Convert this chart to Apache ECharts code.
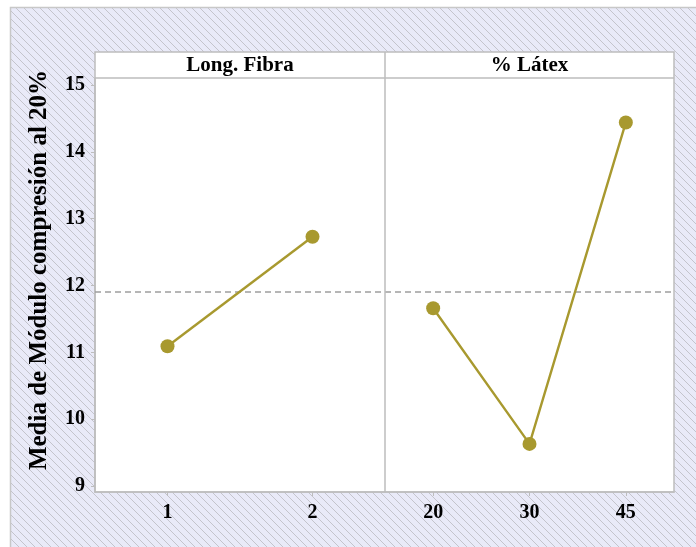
<!DOCTYPE html>
<html>
<head>
<meta charset="utf-8">
<script src="https://cdn.jsdelivr.net/npm/echarts@6/dist/echarts.min.js"></script>
<style>
  html, body { margin: 0; padding: 0; background: #ffffff; }
  #chart { width: 696px; height: 547px; }
</style>
</head>
<body>
<div id="chart"></div>
<script>
// Main effects for "Media de Módulo compresión al 20%"
const fibraLevels = ['1', '2'];
const fibraMeans = [11.09, 12.73];
const latexLevels = ['20', '30', '45'];
const latexMeans = [11.66, 9.63, 14.44];
const grandMean = 11.91;
const yTicks = [9, 10, 11, 12, 13, 14, 15];
const panelTitles = ['Long. Fibra', '% Látex'];
const yTitle = 'Media de Módulo compresión al 20%';

const FONT = '"Liberation Serif", "Times New Roman", serif';
const LINE = '#A8992F';
const FRAME = '#BDBDBD';

// diagonal hatch tile for the page background
function hatchTile() {
  const s = 8;
  const c = document.createElement('canvas');
  c.width = s; c.height = s;
  const g = c.getContext('2d');
  g.fillStyle = '#E9EAF8';
  g.fillRect(0, 0, s, s);
  g.strokeStyle = '#C4C4CC';
  g.lineWidth = 1;
  g.beginPath();
  g.moveTo(-1, -1); g.lineTo(s + 1, s + 1);
  g.moveTo(-1, s - 1); g.lineTo(1, s + 1);
  g.moveTo(s - 1, -1); g.lineTo(s + 1, 1);
  g.stroke();
  return c;
}

const PL = 95, PR = 674, PM = 385, PT = 52, HB = 78, PB = 492;
const yMin = 8.91, yMax = 15.105;

function yAxisDef(show) {
  return {
    type: 'value', gridIndex: show ? 0 : 1, min: yMin, max: yMax,
    axisLine: { show: show, lineStyle: { color: FRAME, width: 1.5 } },
    axisTick: { show: show, customValues: yTicks, length: 4, lineStyle: { color: FRAME } },
    axisLabel: {
      show: show, customValues: yTicks, margin: 10,
      fontFamily: FONT, fontWeight: 'bold', fontSize: 20, color: '#000'
    },
    splitLine: { show: false }
  };
}

function xAxisDef(idx, cats) {
  return {
    type: 'category', gridIndex: idx, data: cats, boundaryGap: true,
    axisLine: { show: true, lineStyle: { color: FRAME, width: 1.5 } },
    axisTick: { show: true, alignWithLabel: true, length: 4, lineStyle: { color: FRAME } },
    axisLabel: { margin: 11, fontFamily: FONT, fontWeight: 'bold', fontSize: 20, color: '#000' }
  };
}

function seriesDef(idx, values) {
  return {
    type: 'line', xAxisIndex: idx, yAxisIndex: idx, data: values,
    symbol: 'circle', symbolSize: 14,
    lineStyle: { color: LINE, width: 2.4 },
    itemStyle: { color: LINE },
    z: 5,
    markLine: {
      silent: true, symbol: 'none', label: { show: false },
      lineStyle: { color: '#9E9E9E', type: [6, 4], width: 1.5 },
      data: [{ yAxis: grandMean }]
    }
  };
}

const chart = echarts.init(document.getElementById('chart'), null, { renderer: 'canvas' });
chart.setOption({
  animation: false,
  backgroundColor: '#ffffff',
  grid: [
    { left: PL, top: HB, width: PM - PL, height: PB - HB },
    { left: PM, top: HB, width: PR - PM, height: PB - HB }
  ],
  xAxis: [xAxisDef(0, fibraLevels), xAxisDef(1, latexLevels)],
  yAxis: [yAxisDef(true), yAxisDef(false)],
  series: [seriesDef(0, fibraMeans), seriesDef(1, latexMeans)],
  graphic: [
    {
      type: 'rect', z: -10, silent: true,
      shape: { x: 10.5, y: 7.5, width: 700, height: 560 },
      style: { fill: { image: hatchTile(), repeat: 'repeat' }, stroke: '#C8C8C8', lineWidth: 1.5 }
    },
    {
      type: 'rect', z: -5, silent: true,
      shape: { x: PL, y: PT, width: PR - PL, height: PB - PT },
      style: { fill: '#ffffff', stroke: FRAME, lineWidth: 1.5 }
    },
    {
      type: 'line', z: 20, silent: true,
      shape: { x1: PL, y1: HB, x2: PR, y2: HB },
      style: { stroke: FRAME, lineWidth: 1.5 }
    },
    {
      type: 'line', z: 20, silent: true,
      shape: { x1: PM, y1: PT, x2: PM, y2: PB },
      style: { stroke: FRAME, lineWidth: 1.5 }
    },
    {
      type: 'text', z: 20, silent: true,
      style: {
        x: (PL + PM) / 2, y: (PT + HB) / 2 + 1, text: panelTitles[0],
        font: 'bold 21px ' + FONT, fill: '#000', align: 'center', verticalAlign: 'middle'
      }
    },
    {
      type: 'text', z: 20, silent: true,
      style: {
        x: (PM + PR) / 2, y: (PT + HB) / 2 + 1, text: panelTitles[1],
        font: 'bold 21px ' + FONT, fill: '#000', align: 'center', verticalAlign: 'middle'
      }
    },
    {
      type: 'text', z: 20, silent: true,
      x: 40, y: 270, rotation: Math.PI / 2,
      style: {
        x: 0, y: 0, text: yTitle,
        font: 'bold 25px ' + FONT, fill: '#000', align: 'center', verticalAlign: 'middle'
      }
    }
  ]
});
</script>
</body>
</html>
